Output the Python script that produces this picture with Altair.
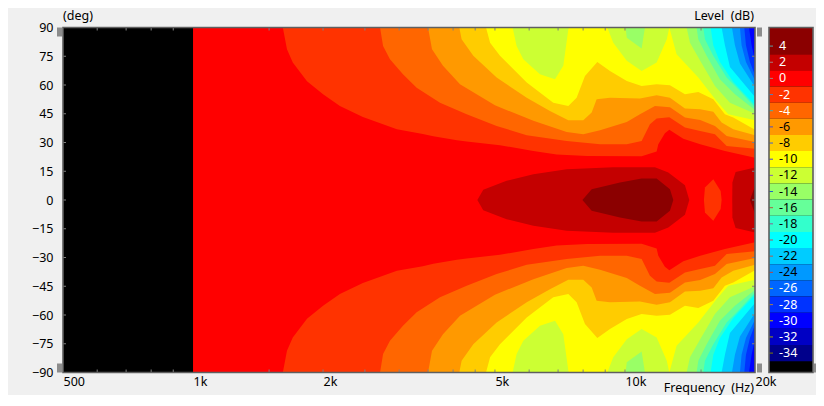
import altair as alt
import pandas as pd

FONT = "Noto Sans"
BG = "#f0f0f0"
FRAME = "#5f5f5f"
HANDLE = "#8c8c8c"
TICK = "#808080"

# Boundary of each contour band on the upper half: (frequency Hz, angle deg).
# The measurement is mirrored around 0 degrees.
B_M30 = [(1200, 90), (20000, 90)]
B_M28 = [(1200, 90), (19368, 90), (19640, 80.7), (20000, 72.9)]
B_M26 = [(1200, 90), (18892, 90), (19058, 80.7), (19470, 72), (20000, 65.1)]
B_M24 = [(1200, 90), (18458, 90), (18620, 80.7), (19058, 72), (20000, 62.5)]
B_M22 = [(1200, 90), (17686, 90), (17972, 80.7), (18458, 71.2), (20000, 59)]
B_M20 = [(1200, 90), (16740, 90), (17038, 80.7), (17499, 69.4), (20000, 53.8)]
B_M18 = [(1200, 90), (15787, 90), (16013, 80.7), (16590, 72), (17813, 61.6), (20000, 49.4)]
B_M16 = [(1200, 90), (15181, 90), (15317, 83.9), (16013, 75.2), (17195, 63.9), (18458, 56.9), (20000, 48.2)]
B_M14 = [(1200, 90), (14651, 90), (14784, 83.9), (15456, 75.2), (16590, 63), (17972, 55.2), (20000, 47)]
B_M12 = [(1200, 90), (10034, 90), (10097, 84.7), (10929, 79), (11122, 90), (13891, 90), (14141, 82.1),
         (14934, 72.6), (16155, 59.5), (17499, 50.8), (20000, 45)]
B_M10 = [(1200, 90), (5494, 90), (5612, 80.4), (5817, 73.4), (6356, 65.6), (6887, 63), (7198, 70),
         (7393, 89), (7420, 90), (9102, 90), (9395, 82.1), (10097, 72.6), (10929, 67.3), (11839, 71.7),
         (12496, 83.9), (12668, 90), (13169, 76), (14784, 63.9), (16300, 51.7), (17343, 44.7), (20000, 41.6)]
B_M8 = [(1200, 90), (4768, 90), (4872, 82.1), (5136, 75.2), (5923, 61.3), (6824, 50.8), (7393, 49.1),
        (7728, 53.4), (8080, 64.7), (8629, 72), (9232, 67.3), (10097, 62.1), (10929, 59.5), (11839, 60.4),
        (12710, 59.9), (13768, 55.2), (14784, 56.4), (16013, 52.6), (17038, 44.7), (17813, 43), (20000, 36.6)]
B_M6 = [(1200, 90), (4135, 90), (4186, 83.9), (4455, 75.2), (5045, 63.9), (5923, 53.4), (6703, 46.5),
        (7393, 41.6), (8008, 41.6), (8373, 45.6), (8599, 52.6), (9232, 53.4), (10832, 52.9), (11839, 54.6),
        (12710, 53.3), (13768, 47.7), (14934, 47.3), (16013, 46), (16740, 40.4), (17813, 36.9), (20000, 33.8)]
B_M4 = [(1200, 90), (3500, 90), (3575, 78.6), (3790, 70), (4150, 60.4), (5000, 49.4), (6136, 41.3),
        (7330, 35.5), (8008, 34.3), (8756, 36.4), (10097, 40.7), (10832, 44.7), (11733, 49.1), (12710, 48.4),
        (13768, 43), (14934, 41.8), (16155, 38.6), (17195, 33.4), (20000, 30.3)]
B_M2 = [(1200, 90), (2710, 90), (2754, 80.4), (2857, 73.4), (3062, 65.6), (3294, 58.6), (3731, 50.8),
        (4300, 44.7), (5045, 38.6), (5923, 33.8), (7330, 30.8), (8756, 29.1), (10097, 29.1), (10929, 30.8),
        (11423, 39.5), (11839, 42.5), (12668, 43.2), (13768, 37.8), (14934, 36), (16155, 34.3), (17195, 28.2),
        (20000, 26.8)]
B_0 = [(1000, 90), (1614, 90), (1650, 78.6), (1702, 71.7), (1836, 62), (2000, 55.2), (2188, 49), (2473, 43.3),
       (2965, 36.9), (3404, 34.5), (3600, 33.3), (4084, 31.2), (4300, 30.5), (5136, 28.6), (6136, 25.6),
       (6950, 23.7), (8171, 23), (10929, 22.8), (11839, 25.3), (11944, 29.1), (12372, 34.8), (12668, 36.6),
       (13647, 32), (14934, 29.1), (17038, 25.6), (20000, 22.1)]
B_P2 = [(4552, 0), (4698, 5.3), (5320, 10), (6136, 13.4), (7330, 16), (9395, 17.1), (11733, 17.1), (12599, 14.3),
        (13768, 7.7), (14090, 0)]
B_P2B = [(17716, 0), (17730, 9.1), (18036, 14.6), (20000, 16.9)]
B_P4 = [(7970, 0), (8373, 5.6), (9738, 9.1), (10929, 11.2), (11839, 11.2), (12710, 5.6), (12939, 0)]
B_P4B = [(19470, 0), (20000, 7.3)]
B_DIP = [(15233, 0), (15317, 6.5), (16013, 10.8), (16652, 4.7), (16740, 0)]

LAYERS = [
    (B_M30, "#0000ff"), (B_M28, "#0033ff"), (B_M26, "#0066ff"), (B_M24, "#0099ff"), (B_M22, "#00ccff"),
    (B_M20, "#00ffff"), (B_M18, "#33ffcc"), (B_M16, "#66ff99"), (B_M14, "#99ff66"), (B_M12, "#ccff33"),
    (B_M10, "#ffff00"), (B_M8, "#ffcc00"), (B_M6, "#ff9900"), (B_M4, "#ff6600"), (B_M2, "#ff3300"),
    (B_0, "#ff0000"), (B_P2, "#c40000"), (B_P2B, "#c40000"), (B_P4, "#8b0000"), (B_P4B, "#8b0000"),
    (B_DIP, "#ff3300"),
]

# Colour bar
BAR_LABELS = [4, 2, 0, -2, -4, -6, -8, -10, -12, -14, -16, -18, -20, -22, -24, -26, -28, -30, -32, -34]
BAR_COLORS = ["#8b0000", "#c40000", "#ff0000", "#ff3300", "#ff6600", "#ff9900", "#ffcc00", "#ffff00", "#ccff33",
              "#99ff66", "#66ff99", "#33ffcc", "#00ffff", "#00ccff", "#0099ff", "#0066ff", "#0033ff", "#0000ff",
              "#0000c4", "#00008b"]
BAR_TICKS = ["#5f9ea0", "#a08080", "#a08080", "#5080c0", "#40b0b0", "#5050c0", "#4060d0", "#4040e0", "#8060c0",
             "#2060d0", "#b06040", "#906090", "#b05060", "#b06050", "#c04040", "#c0c040", "#b08040", "#c0c000",
             "#a0a000", "#808000"]
BAR_TEXT = ["white"] * 5 + ["black"] * 10 + ["white"] * 5
BAR_TOP = 6.3
BAR_BOTTOM = -36.4

MINOR_F = [600, 700, 800, 900, 1500, 2000, 2500, 3000, 3500, 4000, 4500, 5000, 6000, 7000, 8000, 9000, 10000, 15000]
Y_TICKS = [-75, -60, -45, -30, -15, 0, 15, 30, 45, 60, 75]
X_LABELS = [500, 1000, 2000, 5000, 10000, 20000]
Y_LABELS = [-90, -75, -60, -45, -30, -15, 0, 15, 30, 45, 60, 75, 90]

W, H = 692, 345
BX = W + 14   # left edge of the colour bar
BW = 44
xs = alt.Scale(type="log", domain=[500, 20000], nice=False)
ys = alt.Scale(domain=[-90, 90], nice=False)

x_axis = alt.Axis(values=X_LABELS, title=None, ticks=False, domain=False, grid=False, labelAlign="left",
                  labelBaseline="middle", labelPadding=9, labelFont=FONT, labelFontSize=12.5, labelColor="black",
                  labelFlush=False, labelOverlap=False, labelBound=False,
                  labelExpr="datum.value >= 1000 ? (datum.value / 1000) + 'k' : datum.value")
y_axis = alt.Axis(values=Y_LABELS, title=None, ticks=False, domain=False, grid=False, labelPadding=10,
                  labelFont=FONT, labelFontSize=12.5, labelColor="black", labelOverlap=False, labelBound=False,
                  minExtent=55, maxExtent=55)

layers = [
    alt.Chart(pd.DataFrame({"f": [500, 20000], "a": [90, 90], "b": [-90, -90]})).mark_area(color="black").encode(
        x=alt.X("f:Q", scale=xs, axis=x_axis),
        y=alt.Y("a:Q", scale=ys, axis=y_axis, stack=None),
        y2="b:Q",
    )
]
for pts, col in LAYERS:
    d = pd.DataFrame({"f": [p[0] for p in pts], "a": [p[1] for p in pts], "b": [-p[1] for p in pts]})
    layers.append(
        alt.Chart(d).mark_area(color=col, interpolate="linear").encode(
            x=alt.X("f:Q", scale=xs, axis=x_axis),
            y=alt.Y("a:Q", scale=ys, axis=y_axis, stack=None),
            y2="b:Q",
        )
    )

fdf = pd.DataFrame({"f": MINOR_F})
adf = pd.DataFrame({"a": Y_TICKS})
for y0, y1 in [(0, 3), (H - 3, H)]:
    layers.append(alt.Chart(fdf).mark_rule(color=TICK, strokeWidth=1).encode(
        x=alt.X("f:Q", scale=xs, axis=x_axis), y=alt.value(y0), y2=alt.value(y1)))
for x0, x1 in [(0, 3), (W - 3, W)]:
    layers.append(alt.Chart(adf).mark_rule(color=TICK, strokeWidth=1).encode(
        y=alt.Y("a:Q", scale=ys, axis=y_axis), x=alt.value(x0), x2=alt.value(x1)))


def box(x0, x1, y0, y1, **kw):
    return alt.Chart(pd.DataFrame({"k": [0]})).mark_rect(**kw).encode(
        x=alt.value(x0), x2=alt.value(x1), y=alt.value(y0), y2=alt.value(y1))


def label(txt, x, y, align):
    return alt.Chart(pd.DataFrame({"k": [0]})).mark_text(
        text=txt, align=align, baseline="middle", font=FONT, fontSize=12.5, color="black"
    ).encode(x=alt.value(x), y=alt.value(y))


layers += [
    box(0, W, 0, H, filled=False, stroke=FRAME, strokeWidth=1.6),
    box(-6, -1, 0, 9, color=HANDLE),
    box(-6, -1, H - 9, H, color=HANDLE),
    box(W + 2, W + 7, 0, 9, color=HANDLE),
    box(W + 2, W + 7, H - 9, H, color=HANDLE),
    label("(deg)", 0, -12, "left"),
    label("Level\u00a0\u00a0(dB)", W - 1, -12, "right"),
    label("Frequency\u00a0\u00a0(Hz)", W - 1, H + 15, "right"),
]
main = alt.layer(*layers)

bar = pd.DataFrame({
    "v": BAR_LABELS,
    "hi": [BAR_TOP] + [v + 1 for v in BAR_LABELS[1:]],
    "lo": [v - 1 for v in BAR_LABELS],
    "col": BAR_COLORS,
    "tick": BAR_TICKS,
    "txt": BAR_TEXT,
    "lab": [str(v) for v in BAR_LABELS],
})
bs = alt.Scale(domain=[BAR_BOTTOM, BAR_TOP], nice=False)
side = alt.layer(
    alt.Chart(pd.DataFrame({"a": [BAR_TOP], "b": [BAR_BOTTOM]})).mark_rect(color="black").encode(
        x=alt.value(BX), x2=alt.value(BX + BW), y=alt.Y("a:Q", scale=bs, axis=None), y2="b:Q"),
    alt.Chart(bar).mark_rect().encode(
        x=alt.value(BX), x2=alt.value(BX + BW), y=alt.Y("hi:Q", scale=bs, axis=None), y2="lo:Q",
        color=alt.Color("col:N", scale=None)),
    alt.Chart(bar).mark_rule(strokeWidth=1).encode(
        x=alt.value(BX), x2=alt.value(BX + 4), y=alt.Y("v:Q", scale=bs, axis=None),
        color=alt.Color("tick:N", scale=None)),
    alt.Chart(bar).mark_text(align="left", baseline="middle", font=FONT, fontSize=12.5).encode(
        x=alt.value(BX + 10), y=alt.Y("v:Q", scale=bs, axis=None), text="lab:N",
        color=alt.Color("txt:N", scale=None)),
    box(BX, BX + BW, 0, H, filled=False, stroke=FRAME, strokeWidth=1.6),
    box(BX + BW + 1, BX + BW + 3, H - 9, H, color=HANDLE),
)

chart = alt.layer(main, side).resolve_scale(y="independent", color="independent").properties(
    width=W, height=H, padding={"left": 0, "top": 1.5, "right": 0, "bottom": 0}, background=BG
).configure_view(stroke=None)

chart.save("out.html", embed_options={"renderer": "svg", "actions": False})
